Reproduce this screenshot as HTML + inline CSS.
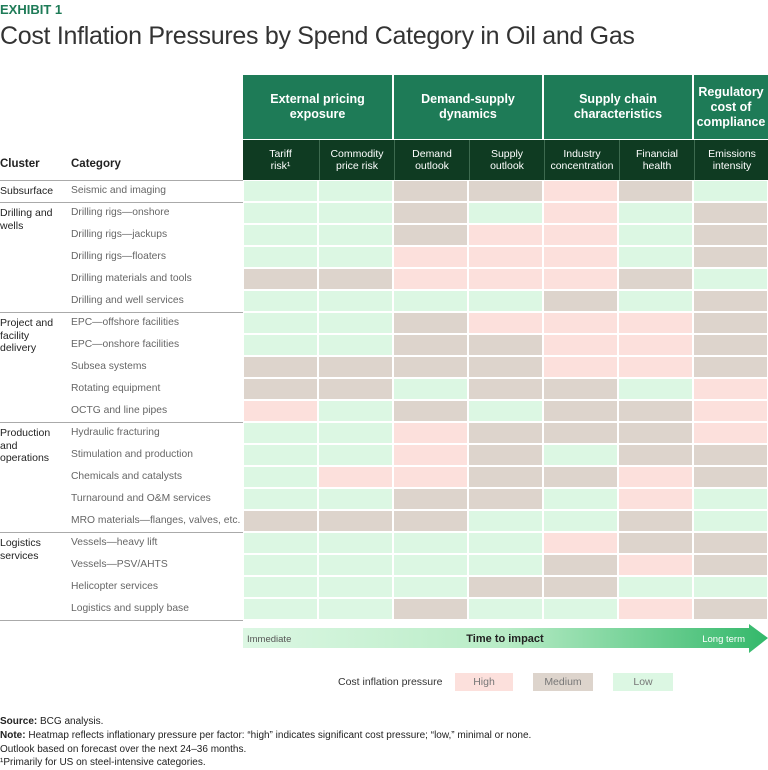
<!DOCTYPE html>
<html><head><meta charset="utf-8">
<style>
body{margin:0;background:#fff;font-family:"Liberation Sans",sans-serif;}
#root{position:relative;width:768px;height:770px;overflow:hidden;}
.abs{position:absolute;}
.hd1{background:#1e7b57;color:#fff;font-weight:bold;font-size:12.5px;display:flex;align-items:center;justify-content:center;text-align:center;line-height:15px;}
.hd2{background:#0f3b22;color:#fff;font-size:10.5px;display:flex;align-items:center;justify-content:center;text-align:center;line-height:12px;}
.cl{font-size:10.5px;color:#222;line-height:12.5px;white-space:nowrap;}
.cat{font-size:10.3px;color:#666;white-space:nowrap;}
.ft{font-size:10px;color:#222;left:0;white-space:nowrap;}
</style></head><body>
<div id="root">
<div class="abs" style="left:0;top:2px;font-size:13px;font-weight:bold;color:#1e7b57">EXHIBIT 1</div>
<div class="abs" style="left:0;top:22px;font-size:25px;color:#333;letter-spacing:-0.3px">Cost Inflation Pressures by Spend Category in Oil and Gas</div>

<div class="abs hd1" style="left:243px;top:75px;width:149px;height:64px">External pricing<br>exposure</div>
<div class="abs hd1" style="left:394px;top:75px;width:148px;height:64px">Demand-supply<br>dynamics</div>
<div class="abs hd1" style="left:544px;top:75px;width:148px;height:64px">Supply chain<br>characteristics</div>
<div class="abs hd1" style="left:694px;top:75px;width:74px;height:64px">Regulatory<br>cost of<br>compliance</div>
<div id="hd2" class="abs" style="left:243px;top:140px;width:525px;height:40px;background:#0f3b22"></div>

<div class="abs cl" style="left:0;top:158px;font-weight:bold;font-size:11.5px">Cluster</div>
<div class="abs cl" style="left:71px;top:158px;font-weight:bold;font-size:11.5px">Category</div>

<div id="left" class="abs" style="left:0;top:0;width:243px;height:770px"></div>
<svg id="hm" class="abs" style="left:0;top:0" width="768" height="770"></svg>

<svg class="abs" style="left:243px;top:624px" width="525" height="30">
<defs><linearGradient id="ag" x1="0" x2="1"><stop offset="0" stop-color="#dcf7e3"/><stop offset="0.5" stop-color="#b8ecc6"/><stop offset="1" stop-color="#33b86a"/></linearGradient></defs>
<polygon points="0,4 506,4 506,0 525,14 506,29 506,24 0,24" fill="url(#ag)"/>
<text x="4" y="18" font-size="9.5" fill="#555" font-family="Liberation Sans">Immediate</text>
<text x="262" y="18" font-size="11" font-weight="bold" fill="#222" text-anchor="middle" font-family="Liberation Sans">Time to impact</text>
<text x="502" y="18" font-size="9.5" fill="#fff" text-anchor="end" font-family="Liberation Sans">Long term</text>
</svg>

<div class="abs" style="left:338px;top:676px;font-size:10.5px;color:#333">Cost inflation pressure</div>
<div class="abs" style="left:455px;top:673px;width:58px;height:18px;background:#fce0dc;color:#777;font-size:10.5px;text-align:center;line-height:18px">High</div>
<div class="abs" style="left:533px;top:673px;width:60px;height:18px;background:#ddd4cc;color:#777;font-size:10.5px;text-align:center;line-height:18px">Medium</div>
<div class="abs" style="left:613px;top:673px;width:60px;height:18px;background:#dcf7e3;color:#777;font-size:10.5px;text-align:center;line-height:18px">Low</div>

<div class="abs ft" style="top:716px"><b>Source:</b> BCG analysis.</div>
<div class="abs ft" style="top:730px"><b>Note:</b> Heatmap reflects inflationary pressure per factor: “high” indicates significant cost pressure; “low,” minimal or none.</div>
<div class="abs ft" style="top:744px">Outlook based on forecast over the next 24–36 months.</div>
<div class="abs ft" style="top:757px">¹Primarily for US on steel-intensive categories.</div>
</div>
<script>
const factors=["Tariff<br>risk¹","Commodity<br>price risk","Demand<br>outlook","Supply<br>outlook","Industry<br>concentration","Financial<br>health","Emissions<br>intensity"];
const categories=["Seismic and imaging","Drilling rigs—onshore","Drilling rigs—jackups","Drilling rigs—floaters","Drilling materials and tools","Drilling and well services","EPC—offshore facilities","EPC—onshore facilities","Subsea systems","Rotating equipment","OCTG and line pipes","Hydraulic fracturing","Stimulation and production","Chemicals and catalysts","Turnaround and O&amp;M services","MRO materials—flanges, valves, etc.","Vessels—heavy lift","Vessels—PSV/AHTS","Helicopter services","Logistics and supply base"];
const clusters=["Subsurface","Drilling and<br>wells","Project and<br>facility<br>delivery","Production<br>and<br>operations","Logistics<br>services"];
const clusterStart=[0,1,6,11,16];
const levels=[
"LLMMHML","LLMLHLM","LLMHHLM","LLHHHLM","MMHHHML","LLLLMLM",
"LLMHHHM","LLMMHHM","MMMMHHM","MMLMMLH","HLMLMMH",
"LLHMMMH","LLHMLMM","LHHMMHM","LLMMLHL","MMMLLML",
"LLLLHMM","LLLLMHM","LLLMMLL","LLMLLHM"];
const colors={H:"#fce0dc",M:"#ddd4cc",L:"#dcf7e3"};
const x0=243,colW=75,y0=180,rowH=22;
const xs=i=>x0+i*colW, ys=j=>y0+j*rowH;
const ns="http://www.w3.org/2000/svg";
const hm=document.getElementById('hm');
const hd2=document.getElementById('hd2');
factors.forEach((f,i)=>{
 const d=document.createElement('div');
 d.className='abs hd2';
 d.style.left=(i*colW+(i?1:0))+'px';d.style.top='0px';d.style.width=(colW-(i?1:0))+'px';d.style.height='40px';
 d.style.borderLeft=i?'1px solid #3d6a4f':'none';
 d.innerHTML=f;
 
 
 hd2.appendChild(d);
});
levels.forEach((row,j)=>{
 row.split('').forEach((v,i)=>{
  const r=document.createElementNS(ns,'rect');
  r.setAttribute('x',xs(i)+1);r.setAttribute('y',ys(j)+1);
  r.setAttribute('width',colW-2);r.setAttribute('height',rowH-2);
  r.setAttribute('fill',colors[v]);
  
  
  hm.appendChild(r);
 });
});
const left=document.getElementById('left');
categories.forEach((c,j)=>{
 const d=document.createElement('div');
 d.className='abs cat';d.style.left='71px';d.style.top=(ys(j)+5)+'px';d.innerHTML=c;
 
 
 left.appendChild(d);
});
clusters.forEach((c,k)=>{
 const d=document.createElement('div');
 d.className='abs cl';d.style.left='0px';d.style.top=(ys(clusterStart[k])+5)+'px';d.innerHTML=c;
 
 
 left.appendChild(d);
 const l=document.createElement('div');
 l.className='abs';l.style.left='0px';l.style.top=ys(clusterStart[k])+'px';l.style.width='243px';l.style.height='1px';l.style.background='#aaa';
 
 
 left.appendChild(l);
});
const lb=document.createElement('div');
lb.className='abs';lb.style.left='0px';lb.style.top=ys(categories.length)+'px';lb.style.width='243px';lb.style.height='1px';lb.style.background='#aaa';


left.appendChild(lb);
</script>
</body></html>
